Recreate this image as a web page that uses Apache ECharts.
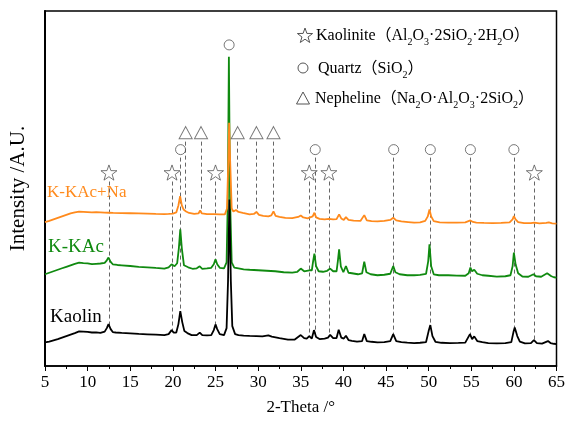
<!DOCTYPE html>
<html>
<head>
<meta charset="utf-8">
<script src="https://cdn.jsdelivr.net/npm/echarts@6.0.0/dist/echarts.min.js"></script>
<style>
  html, body { margin: 0; padding: 0; background: #fff; }
  #chart { width: 568px; height: 421px; }
</style>
</head>
<body>
<div id="chart"></div>
<script>
// 2-Theta (deg) / intensity pairs (arbitrary units)
const kaolin = [
  [5.0, 23.7], [5.5, 24.5], [6, 25.8], [6.5, 27], [7, 28.5], [7.5, 30], [8, 31.5], [8.5, 33], [9, 34.7],
  [9.5, 34.5], [10, 34.2], [10.5, 33.6], [11, 33.8], [11.5, 33.2], [12, 34.5], [12.25, 38], [12.45, 42],
  [12.7, 37], [12.95, 34], [13.3, 33.6], [14, 33.2], [15, 32.8], [16, 32.2], [17, 31.8], [18, 31.4],
  [19, 31], [19.5, 32], [19.85, 36], [20.1, 33.5], [20.4, 33.5], [20.65, 42], [20.87, 55], [21.1, 44],
  [21.35, 35], [21.7, 33], [22.2, 31], [22.8, 31], [23.15, 33.5], [23.45, 31], [24, 30.8], [24.5, 31],
  [24.8, 36], [25.0, 41.7], [25.2, 37], [25.5, 32], [26, 31], [26.3, 38], [26.47, 85], [26.63, 167],
  [26.8, 85], [26.97, 40], [27.3, 32], [27.7, 31], [28.3, 30.5], [29, 30.2], [29.8, 30], [30.5, 29.8],
  [31.2, 30.8], [31.6, 29.5], [32.5, 28], [33.5, 26.5], [34.3, 26.5], [35.0, 31], [35.4, 28], [35.7, 27.5],
  [36.0, 30], [36.3, 27.5], [36.55, 36], [36.8, 29], [37.2, 27], [37.8, 27.5], [38.2, 28.5], [38.45, 31.3],
  [38.8, 28], [39.2, 28], [39.45, 36.3], [39.75, 28.5], [40.05, 27.5], [40.3, 30.3], [40.6, 26], [41, 25.3],
  [41.6, 24.5], [42.2, 25], [42.45, 32], [42.75, 25], [43.3, 24.3], [44, 23.7], [44.8, 24], [45.5, 25],
  [45.85, 32], [46.2, 25], [46.8, 24], [47.5, 23.5], [48.3, 23], [49, 23.3], [49.7, 24], [50.0, 35],
  [50.2, 41], [50.45, 30], [50.8, 24.3], [51.5, 23.3], [52.5, 23], [53.5, 23.2], [54.3, 23.5], [54.85, 32],
  [55.1, 27], [55.35, 29.7], [55.7, 25], [56.3, 24], [57, 23], [58, 22.7], [59, 23], [59.7, 24], [59.95, 34],
  [60.1, 38.7], [60.4, 30], [60.7, 24.5], [61.3, 22.7], [62, 23], [62.35, 26], [62.7, 23], [63.3, 22.5],
  [64, 25], [64.3, 23], [64.7, 22.3], [65, 22]
]

const kkac = [
  [5.0, 92], [5.5, 93.5], [6, 95], [6.5, 96.5], [7, 98], [7.5, 99.5], [8, 101], [8.5, 102.5], [9, 103.7],
  [9.5, 103.2], [10, 103], [10.5, 102.2], [11, 102.5], [11.5, 102.8], [12, 103.5], [12.25, 106], [12.45, 108.7],
  [12.7, 104.5], [12.95, 102], [13.5, 101.3], [14, 101], [15, 100.3], [16, 99.5], [17, 99], [18, 98.3],
  [19, 97.7], [19.5, 99], [19.85, 102], [20.2, 100], [20.5, 103], [20.7, 118], [20.87, 137], [21.05, 118],
  [21.3, 101], [21.8, 99], [22.3, 97.5], [22.8, 98], [23.15, 100], [23.45, 97.5], [24, 97.8], [24.5, 98.5],
  [24.8, 102], [25.0, 107], [25.2, 102], [25.5, 98.5], [26, 98], [26.3, 104], [26.45, 170], [26.57, 310],
  [26.7, 170], [26.9, 104], [27.2, 98.7], [27.7, 98], [28.3, 97], [29, 96.5], [30, 96], [31, 95.5], [32, 95],
  [33, 94], [34, 93.7], [34.6, 94.5], [35.0, 97.7], [35.4, 95], [35.7, 95.5], [36.0, 96], [36.3, 96],
  [36.45, 105], [36.6, 112.7], [36.8, 100], [37.1, 95], [37.6, 94.5], [38.1, 95.5], [38.45, 97.7], [38.8, 95],
  [39.2, 95], [39.35, 105], [39.5, 117], [39.7, 100], [40.0, 94], [40.3, 100.3], [40.6, 93.5], [41, 93],
  [41.7, 92], [42.2, 93], [42.45, 104.7], [42.7, 94], [43.2, 92], [44, 91], [44.8, 91.5], [45.5, 92.5],
  [45.85, 100.3], [46.1, 94], [46.6, 92], [47.5, 91], [48.3, 91], [49, 91.3], [49.7, 92.5], [49.95, 105],
  [50.1, 122], [50.3, 100], [50.6, 92], [51.2, 91], [52.3, 91], [53.3, 90.7], [54.3, 90.5], [54.7, 93],
  [54.9, 98.7], [55.1, 95], [55.35, 96.5], [55.7, 92.5], [56.3, 91], [57, 90.5], [58, 89.7], [59, 90],
  [59.6, 91], [59.85, 100], [60.0, 113.7], [60.2, 102], [60.5, 93], [61, 89.7], [61.7, 89.5], [62.3, 92],
  [62.6, 90], [63.2, 89.5], [63.9, 93], [64.1, 94.3], [64.4, 90], [64.7, 89], [65, 88.7]
]

const kkacNa = [
  [5.0, 144.3], [5.5, 145.5], [6, 147], [6.5, 148.5], [7, 150], [7.5, 151.5], [8, 153], [8.5, 154], [9, 154.7],
  [9.5, 154.5], [10, 154.3], [10.5, 154], [11, 154.2], [11.5, 154], [12, 153.8], [12.5, 153.7], [13, 153.5],
  [14, 153.3], [15, 153.2], [16, 153], [17, 152.8], [18, 152.5], [19, 152.3], [19.5, 152.5], [20, 152.8],
  [20.4, 154], [20.65, 161], [20.85, 170.3], [21.05, 161], [21.25, 157], [21.35, 159], [21.55, 155],
  [21.9, 153.5], [22.5, 152.5], [23.0, 153], [23.2, 156], [23.4, 153], [24, 152.3], [24.8, 152.3],
  [25.5, 152], [26.1, 152], [26.35, 158], [26.5, 205], [26.6, 244], [26.72, 205], [26.9, 158], [27.1, 155],
  [27.4, 156.5], [27.7, 154.5], [28.2, 153.5], [29, 152], [29.5, 152.5], [29.8, 154.5], [30.1, 151.5],
  [30.6, 150.5], [31.2, 150], [31.55, 151], [31.8, 155], [32.05, 150.5], [32.5, 149.5], [33.2, 148.5],
  [34, 148.3], [34.7, 149.5], [35.0, 151], [35.3, 149], [35.8, 148], [36.1, 149], [36.4, 150], [36.6, 153.7],
  [36.8, 149], [37.2, 147.5], [37.8, 147], [38.3, 147.5], [38.5, 148.3], [38.8, 147], [39.2, 147.3],
  [39.5, 152], [39.75, 148], [40.05, 146.5], [40.3, 149.3], [40.6, 146.5], [41.2, 145.7], [42, 145.5],
  [42.45, 151.3], [42.75, 146], [43.3, 145.3], [44, 145], [44.8, 145.5], [45.5, 146.5], [45.85, 148.7],
  [46.2, 146], [46.8, 145], [47.6, 144.3], [48.3, 143.7], [49, 144], [49.6, 145.5], [49.9, 150], [50.1, 157],
  [50.3, 150], [50.6, 145.3], [51.3, 144], [52.3, 143.7], [53.3, 143.8], [54.3, 144], [54.9, 146],
  [55.2, 144.5], [55.6, 143.8], [56.5, 143.5], [57.5, 143.2], [58.5, 143.5], [59.5, 144], [59.85, 147],
  [60.0, 150.3], [60.2, 147], [60.5, 144.3], [61.2, 143.2], [62, 143.2], [62.4, 143.8], [63, 143],
  [63.8, 143.5], [64.1, 144], [64.5, 143], [65, 142.7]
]

// phase markers: 2-Theta position and height of the symbol
const kaoliniteTheta = [12.5, 19.9, 25.0, 36.0, 38.3, 62.4]
const kaoliniteY = [194, 194, 194, 194, 194, 194]
const quartzTheta = [20.9, 26.6, 36.7, 45.9, 50.2, 54.9, 60.0]
const quartzY = [217, 322, 217, 217, 217, 217, 217]
const quartzGuide = [true, false, true, true, true, true, true]
const nephelineTheta = [21.5, 23.3, 27.6, 29.8, 31.8]
const nephelineY = [234, 234, 234, 234, 234]

const xTicks = { min: 5, max: 65, step: 5 }

const font = '"Liberation Serif", "Times New Roman", "Noto Sans CJK SC", serif'
const starPath = 'path://M0,-10L2.35,-3.24L9.51,-3.09L3.8,1.24L5.88,8.09L0,4L-5.88,8.09L-3.8,1.24L-9.51,-3.09L-2.35,-3.24Z'
const markColor = '#555'

// intensity of a trace at a given angle (used to end the dashed guides on the curve)
const valueAt = (trace, t) => {
  for (let i = 1; i < trace.length; i++) {
    if (trace[i][0] >= t) {
      const [x0, y0] = trace[i - 1]
      const [x1, y1] = trace[i]
      return y0 + (y1 - y0) * (t - x0) / (x1 - x0)
    }
  }
  return trace[trace.length - 1][1]
}

const guides = []
kaoliniteTheta.forEach((t, i) => guides.push({ coords: [[t, kaoliniteY[i] - 9], [t, valueAt(kaolin, t)]] }))
quartzTheta.forEach((t, i) => {
  if (quartzGuide[i]) guides.push({ coords: [[t, quartzY[i] - 8], [t, valueAt(kaolin, t)]] })
})
nephelineTheta.forEach((t, i) => guides.push({ coords: [[t, nephelineY[i] - 9], [t, valueAt(kkacNa, t)]] }))

const zip = (xs, ys) => xs.map((x, i) => [x, ys[i]])

const markerStyle = { color: 'rgba(0,0,0,0)', borderColor: markColor, borderWidth: 1 }

// star outline for the legend block
const starPoints = (cx, cy, r) => {
  const pts = []
  for (let k = 0; k < 10; k++) {
    const a = -Math.PI / 2 + k * Math.PI / 5
    const rr = k % 2 === 0 ? r : r * 0.4
    pts.push([cx + rr * Math.cos(a), cy + rr * Math.sin(a)])
  }
  return pts
}

const subRich = {
  s: { fontSize: 10, fontFamily: font, lineHeight: 12, verticalAlign: 'bottom', fill: '#000' }
}
const legendText = (y, x, text) => ({
  type: 'text',
  x: x,
  y: y,
  silent: true,
  style: {
    text: text,
    fill: '#000',
    fontSize: 16,
    fontFamily: font,
    lineHeight: 22,
    verticalAlign: 'middle',
    rich: subRich
  }
})

const chart = echarts.init(document.getElementById('chart'), null, { renderer: 'canvas' })

const options = {
  animation: false,
  backgroundColor: '#fff',
  grid: {
    left: 45,
    right: 10,
    top: 11,
    bottom: 54,
    show: true,
    borderColor: '#000',
    borderWidth: 1.5,
    containLabel: false,
  },
  xAxis: {
    type: 'value',
    min: xTicks.min,
    max: xTicks.max,
    interval: xTicks.step,
    name: '2-Theta /°',
    nameLocation: 'middle',
    nameGap: 33,
    nameTextStyle: { color: '#000', fontSize: 17, fontFamily: font },
    axisLine: { lineStyle: { color: '#000', width: 1.5 } },
    axisTick: { inside: false, length: 5, lineStyle: { color: '#000', width: 1 } },
    minorTick: { show: true, splitNumber: 2, length: 3, lineStyle: { color: '#000', width: 1 } },
    splitLine: { show: false },
    axisLabel: { color: '#000', fontSize: 17, fontFamily: font, margin: 8, showMinLabel: true, showMaxLabel: true },
  },
  yAxis: {
    type: 'value',
    min: 0,
    max: 356,
    name: 'Intensity /A.U.',
    nameLocation: 'middle',
    nameRotate: 90,
    nameGap: 16,
    nameTextStyle: { color: '#000', fontSize: 21, fontFamily: font, padding: [0, 0, 0, 0] },
    axisLine: { show: true, lineStyle: { color: '#000', width: 2 } },
    axisTick: { show: false },
    axisLabel: { show: false },
    splitLine: { show: false },
  },
  series: [
    {
      type: 'lines',
      coordinateSystem: 'cartesian2d',
      silent: true,
      z: 1,
      lineStyle: { color: '#666', width: 1, type: [4, 3], opacity: 1 },
      data: guides,
    },
    {
      name: 'K-KAc',
      type: 'line',
      data: kkac,
      showSymbol: false,
      z: 2,
      lineStyle: { color: '#108a10', width: 1.8 },
    },
    {
      name: 'Kaolin',
      type: 'line',
      data: kaolin,
      showSymbol: false,
      z: 3,
      lineStyle: { color: '#000', width: 1.8 },
    },
    {
      name: 'K-KAc+Na',
      type: 'line',
      data: kkacNa,
      showSymbol: false,
      z: 4,
      lineStyle: { color: '#ff8a1c', width: 1.8 },
    },
    {
      type: 'scatter',
      data: zip(kaoliniteTheta, kaoliniteY),
      symbol: starPath,
      symbolSize: 16,
      symbolKeepAspect: true,
      silent: true,
      z: 5,
      itemStyle: markerStyle,
    },
    {
      type: 'scatter',
      data: zip(quartzTheta, quartzY),
      symbol: 'circle',
      symbolSize: 10,
      silent: true,
      z: 5,
      itemStyle: markerStyle,
    },
    {
      type: 'scatter',
      data: zip(nephelineTheta, nephelineY),
      symbol: 'triangle',
      symbolSize: [13, 12],
      silent: true,
      z: 5,
      itemStyle: markerStyle,
    },
  ],
  graphic: [
    // trace labels
    { type: 'text', x: 47, y: 193, silent: true,
      style: { text: 'K-KAc+Na', fill: '#ff8a1c', fontSize: 17, fontFamily: font, verticalAlign: 'middle' } },
    { type: 'text', x: 48, y: 247, silent: true,
      style: { text: 'K-KAc', fill: '#108a10', fontSize: 19, fontFamily: font, verticalAlign: 'middle' } },
    { type: 'text', x: 50, y: 317, silent: true,
      style: { text: 'Kaolin', fill: '#000', fontSize: 19, fontFamily: font, verticalAlign: 'middle' } },
    // legend block
    { type: 'polygon', silent: true, shape: { points: starPoints(305, 36, 8) },
      style: { fill: 'none', stroke: markColor, lineWidth: 1 } },
    { type: 'circle', silent: true, shape: { cx: 303, cy: 68, r: 5 },
      style: { fill: 'none', stroke: markColor, lineWidth: 1 } },
    { type: 'polygon', silent: true, shape: { points: [[303, 92], [309.5, 104], [296.5, 104]] },
      style: { fill: 'none', stroke: markColor, lineWidth: 1 } },
    legendText(36, 316, 'Kaolinite（Al{s|2}O{s|3}·2SiO{s|2}·2H{s|2}O）'),
    legendText(69, 318, 'Quartz（SiO{s|2}）'),
    legendText(99, 315, 'Nepheline（Na{s|2}O·Al{s|2}O{s|3}·2SiO{s|2}）'),
  ],
}

chart.setOption(options)
window.addEventListener('resize', function () {
  chart && chart.resize()
})
</script>
</body>
</html>
